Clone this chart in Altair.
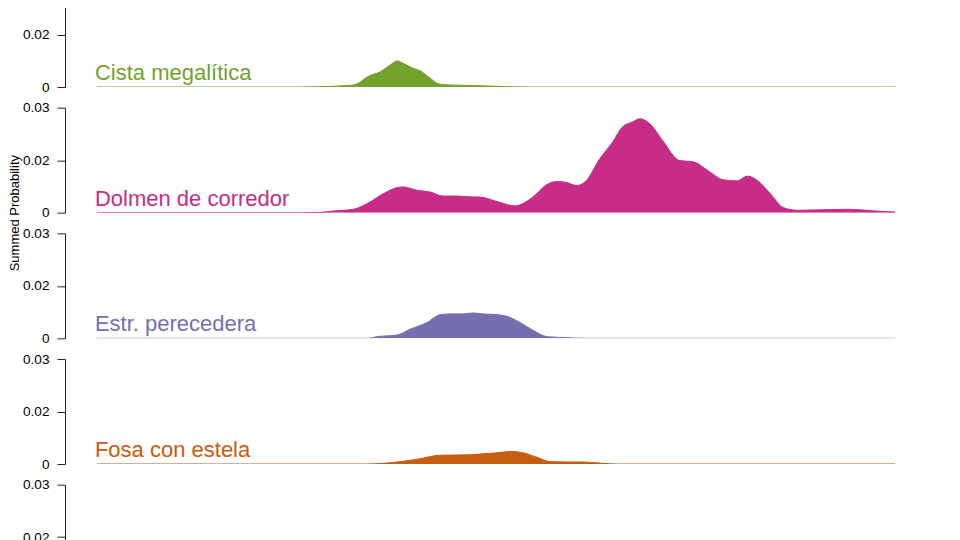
import altair as alt
import pandas as pd

# categories shown in the crop (top panel is cut at the top, the last one is cut at the bottom)
SERIES = ["Cista megalítica", "Dolmen de corredor", "Estr. perecedera", "Fosa con estela"]
COLORS = ["#72a22b", "#c72c87", "#7470b0", "#c75b10"]

# summed probability curves, years cal BP (axis not visible in the crop)
CISTA_YEARS = [6000, 4980, 4880, 4730, 4690, 4645, 4580, 4530, 4495, 4465, 4415, 4380,
               4330, 4295, 4265, 4165, 4045, 3945, 3830, 2000]
CISTA_PROB = [0, 0, 0.0001, 0.0005, 0.0011, 0.0030, 0.0045, 0.0065, 0.0077, 0.0070, 0.0055, 0.0048,
              0.0026, 0.0011, 0.0007, 0.0005, 0.0003, 0.0001, 0, 0]

DOLMEN_YEARS = [6000, 4980, 4880, 4815, 4715, 4645, 4565, 4495, 4465, 4395,
                4330, 4265, 4195, 4145, 4080, 3995, 3905, 3865, 3815, 3745,
                3695, 3645, 3595, 3550, 3480, 3415, 3365, 3315, 3280, 3230,
                3165, 3080, 3010, 2940, 2860, 2790, 2740, 2690, 2625, 2560,
                2490, 2240, 2075, 2000]
DOLMEN_PROB = [0, 0, 0.0001, 0.0005, 0.0010, 0.0027, 0.0056, 0.0074, 0.0076, 0.0066,
               0.0061, 0.0049, 0.0049, 0.0047, 0.0046, 0.0033, 0.0020, 0.0027, 0.0046, 0.0083,
               0.0092, 0.0089, 0.0080, 0.0093, 0.0159, 0.0209, 0.0254, 0.0268, 0.0277, 0.0263,
               0.0213, 0.0154, 0.0150, 0.0125, 0.0097, 0.0094, 0.0108, 0.0095, 0.0056, 0.0015,
               0.0007, 0.0010, 0.0004, 0.0002]

ESTR_YEARS = [6000, 4645, 4595, 4495, 4430, 4345, 4280, 4230, 4165, 4115, 4065, 3995,
              3945, 3880, 3815, 3745, 3645, 3530, 2000]
ESTR_PROB = [0, 0, 0.0005, 0.0010, 0.0027, 0.0047, 0.0070, 0.0072, 0.0072, 0.0075, 0.0072, 0.0070,
             0.0065, 0.0047, 0.0024, 0.0005, 0.0002, 0, 0]

FOSA_YEARS = [6000, 4645, 4565, 4465, 4395, 4280, 4145, 4065, 3995, 3930, 3880, 3795,
              3730, 3645, 3565, 3465, 3395, 2000]
FOSA_PROB = [0, 0, 0.0002, 0.0008, 0.0014, 0.0026, 0.0027, 0.0030, 0.0033, 0.0037, 0.0035, 0.0020,
             0.0007, 0.0006, 0.0006, 0.0002, 0, 0]

# R-style axis: ticks at 0, ymax/2, ymax with rounded labels
TICK_VALUES = [0, 0.0155, 0.031]
TICK_LABELS = ["0", "0.02", "0.03"]

X_DOMAIN = [1840, 6160]
PANEL_W = 862
FONT = "Liberation Sans"

label_expr = "".join(f"datum.value == {v} ? '{l}' : " for v, l in zip(TICK_VALUES, TICK_LABELS)) + "''"


def y_enc(domain, title=None):
    ticks = [v for v in TICK_VALUES if domain[0] <= v <= domain[1]]
    axis_kw = dict(
        values=ticks, labelExpr=label_expr, grid=False,
        domainColor="#222", tickColor="#222", tickSize=8, labelPadding=8,
        labelFontSize=13.6, labelColor="black", labelFont=FONT,
    )
    if title:
        axis_kw.update(title=title, titleX=-47, titleY=105, titleAngle=-90,
                       titleBaseline="alphabetic", titleAlign="center",
                       titleFontSize=13, titleFontWeight="normal", titleColor="black", titleFont=FONT)
    else:
        axis_kw.update(title=None)
    return alt.Y("prob:Q", scale=alt.Scale(domain=domain, nice=False, zero=False),
                 axis=alt.Axis(**axis_kw))


x_enc = alt.X("year:Q", scale=alt.Scale(domain=X_DOMAIN, reverse=True, nice=False, zero=False), axis=None)


def panel(name, years, probs, color, domain, height, title=None):
    df = pd.DataFrame({"year": years, "prob": probs})
    y = y_enc(domain, title)
    base = alt.Chart(df).encode(x=x_enc, y=y)
    area = base.mark_area(color=color, interpolate="monotone", clip=True)
    line = base.mark_line(color=color, strokeWidth=1, interpolate="monotone", clip=True)
    label = (
        alt.Chart(pd.DataFrame({"name": [name], "year": [years[0]], "prob": [0]}))
        .mark_text(align="left", baseline="alphabetic", dx=-2, dy=-7, fontSize=22, font=FONT, color=color)
        .encode(x=x_enc, y=y, text="name:N")
    )
    return alt.layer(area, line, label).properties(width=PANEL_W, height=height)


top = panel(SERIES[0], CISTA_YEARS, CISTA_PROB, COLORS[0], [0, 0.031 * 87 / 105], 87)
dolmen = panel(SERIES[1], DOLMEN_YEARS, DOLMEN_PROB, COLORS[1], [0, 0.031], 105, title="Summed Probability")
estr = panel(SERIES[2], ESTR_YEARS, ESTR_PROB, COLORS[2], [0, 0.031], 105)
fosa = panel(SERIES[3], FOSA_YEARS, FOSA_PROB, COLORS[3], [0, 0.031], 105)

# next panel, only its upper part is in view
bottom_domain = [0.031 - 0.031 * 55 / 105, 0.031]
bottom = (
    alt.Chart(pd.DataFrame({"prob": [v for v in TICK_VALUES if v >= bottom_domain[0]]}))
    .mark_point(opacity=0)
    .encode(y=y_enc(bottom_domain))
    .properties(width=PANEL_W, height=55)
)

chart = (
    alt.vconcat(top, dolmen, estr, fosa, bottom, spacing=20.67, bounds="flush")
    .properties(padding={"left": 0, "top": -8, "right": 0, "bottom": 0})
    .configure(font=FONT)
    .configure_view(stroke=None)
)

chart.save("out.html", embed_options={"renderer": "svg", "actions": False})
